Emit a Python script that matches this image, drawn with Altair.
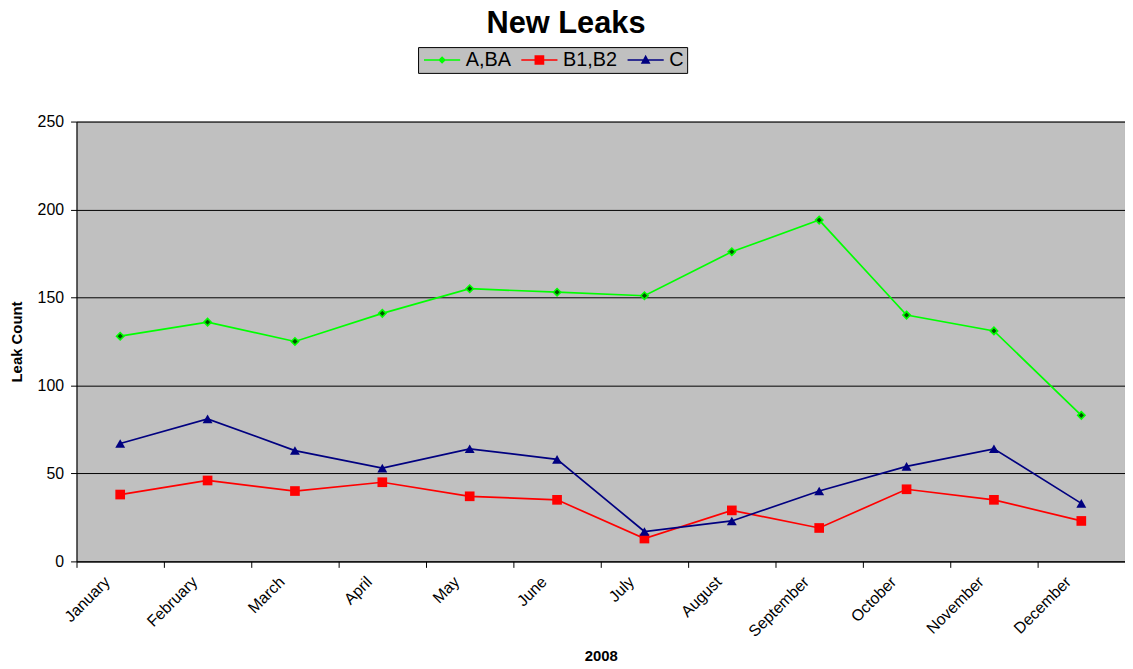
import altair as alt
import pandas as pd

months = ["January", "February", "March", "April", "May", "June", "July",
          "August", "September", "October", "November", "December"]
series_names = ["A,BA", "B1,B2", "C"]
a_ba = [128, 136, 125, 141, 155, 153, 151, 176, 194, 140, 131, 83]
b1_b2 = [38, 46, 40, 45, 37, 35, 13, 29, 19, 41, 35, 23]
c_vals = [67, 81, 63, 53, 64, 58, 17, 23, 40, 54, 64, 33]
colors = ["#00ff00", "#ff0000", "#000080"]
y_ticks = [0, 50, 100, 150, 200, 250]

rows = []
for name, vals in zip(series_names, [a_ba, b1_b2, c_vals]):
    for m, v in zip(months, vals):
        rows.append({"month": m, "series": name, "value": v})
df = pd.DataFrame(rows)

FONT = "Liberation Sans"

x_enc = alt.X(
    "month:N",
    sort=months,
    scale=alt.Scale(type="band", domain=months, paddingInner=0, paddingOuter=0),
    axis=alt.Axis(
        title="2008",
        labelAngle=-45,
        tickBand="extent",
        tickSize=6,
        labelPadding=6,
        labelOffset=-19,
        grid=False,
        titleBaseline="alphabetic",
        titleY=100,
    ),
)
y_enc = alt.Y(
    "value:Q",
    scale=alt.Scale(domain=[0, 250], nice=False, zero=True),
    axis=alt.Axis(
        title="Leak Count",
        values=y_ticks,
        tickSize=6,
        labelPadding=7,
        grid=True,
        titleBaseline="alphabetic",
        titleX=-55,
        titleY=221.5,
    ),
)

base = alt.Chart(df).encode(x=x_enc, y=y_enc)

line_layers = [
    base.transform_filter(alt.datum.series == name).mark_line(strokeWidth=1.7, color=col)
    for name, col in zip(series_names, colors)
]

pts_a = base.transform_filter(alt.datum.series == "A,BA").mark_point(
    shape="diamond", filled=True, fill="#005000", stroke="#00ff00",
    strokeWidth=1.6, size=55, opacity=1
)
pts_b = base.transform_filter(alt.datum.series == "B1,B2").mark_point(
    shape="square", filled=True, color="#ff0000", size=95, opacity=1
)
pts_c = base.transform_filter(alt.datum.series == "C").mark_point(
    shape="triangle-up", filled=True, color="#000080", size=100, opacity=1
)

legend_paths = [
    "M-1,-0.12H4.2V0.12H-1Z M1.6,-0.55L2.15,0L1.6,0.55L1.05,0Z",
    "M-1,-0.12H4.2V0.12H-1Z M0.9,-0.7H2.3V0.7H0.9Z",
    "M-1,-0.12H4.2V0.12H-1Z M1.6,-0.75L2.3,0.55H0.9Z",
]


def make_legend():
    return alt.Legend(
        orient="none",
        legendX=344,
        legendY=-75,
        direction="horizontal",
        columns=3,
        title=None,
        fillColor="#c0c0c0",
        strokeColor="#000000",
        padding=3,
        symbolSize=196,
        symbolStrokeWidth=0,
        symbolOpacity=1,
        labelOffset=25,
        columnPadding=7,
        labelFontSize=20,
        labelFont=FONT,
        labelColor="#000000",
        cornerRadius=0,
    )


legend_layer = base.mark_point(filled=True, opacity=0).encode(
    color=alt.Color("series:N", scale=alt.Scale(domain=series_names, range=colors), legend=make_legend()),
    shape=alt.Shape("series:N", scale=alt.Scale(domain=series_names, range=legend_paths), legend=make_legend()),
)

chart = alt.layer(*line_layers, pts_b, pts_c, pts_a, legend_layer).properties(
    width=1056,
    height=443,
    padding={"left": 69, "top": 112, "right": 0, "bottom": 106},
    autosize=alt.AutoSizeParams(type="none"),
    title=alt.TitleParams(
        "New Leaks",
        font=FONT,
        fontSize=31,
        fontWeight="bold",
        color="#000000",
        anchor="middle",
        frame="group",
        dx=-35,
        offset=7,
    ),
    background="#ffffff",
).configure_view(
    fill="#c0c0c0",
    stroke="#808080",
    strokeWidth=1,
).configure_axis(
    labelFont=FONT,
    labelFontSize=16,
    labelColor="#000000",
    titleFont=FONT,
    titleFontSize=15,
    titleFontWeight="bold",
    titleColor="#000000",
    domainColor="#000000",
    domainWidth=1,
    tickColor="#000000",
    tickWidth=1,
    gridColor="#000000",
    gridWidth=1,
    gridOpacity=1,
)

chart.save("out.html", embed_options={"renderer": "svg", "actions": False})
